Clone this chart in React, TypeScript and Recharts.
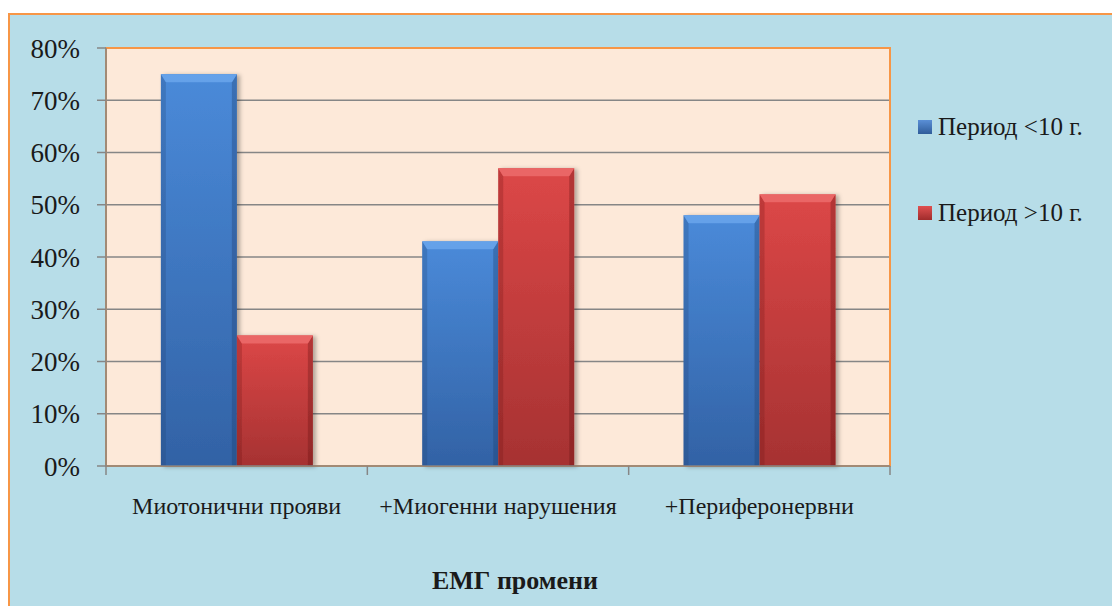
import React from 'react';
import { BarChart, Bar, XAxis, YAxis, CartesianGrid, Legend, ReferenceArea } from 'recharts';

const categories = ['Миотонични прояви', '+Миогенни нарушения', '+Периферонервни'];
const under10 = [75, 43, 48];
const over10 = [25, 57, 52];
const seriesNames = ['Период <10 г.', 'Период >10 г.'];
const yTicks = [0, 10, 20, 30, 40, 50, 60, 70, 80];
// integer positions are category boundaries, halves are category centres
const xTicks = [0, 0.5, 1, 1.5, 2, 2.5, 3];
const axisTitle = 'ЕМГ промени';

const data = categories.map((name, i) => ({
  name,
  pos: i + 0.5,
  under: under10[i],
  over: over10[i],
}));

const FONT = '"Liberation Serif", "Times New Roman", serif';
const TEXT = '#1a1a1a';
const AXIS = '#868686';

// bar with a light bevel on top and darker side edges
const makeBar = (grad: string, light: string, dark: string) => (props: any) => {
  const { x, y, width: w, height: h } = props;
  if (!h || h <= 0) return null;
  const b = Math.min(8, h / 2);
  const s = 5;
  return (
    <g filter="url(#barShadow)">
      <rect x={x} y={y} width={w} height={h} fill={`url(#${grad})`} />
      <polygon points={`${x},${y} ${x + s},${y + b} ${x + s},${y + h} ${x},${y + h}`} fill={dark} fillOpacity={0.25} />
      <polygon points={`${x + w},${y} ${x + w - s},${y + b} ${x + w - s},${y + h} ${x + w},${y + h}`} fill={dark} fillOpacity={0.35} />
      <polygon points={`${x},${y} ${x + w},${y} ${x + w - s},${y + b} ${x + s},${y + b}`} fill={light} fillOpacity={0.85} />
    </g>
  );
};

const BlueBar = makeBar('gradBlue', '#6aa6ec', '#1f3f70');
const RedBar = makeBar('gradRed', '#ec6c6c', '#6a1515');

const BottomTick = ({ x, y, payload }: any) => {
  const v = payload.value as number;
  if (Number.isInteger(v)) {
    return <line x1={x} y1={y} x2={x} y2={y + 9} stroke={AXIS} strokeWidth={1.5} />;
  }
  return (
    <text x={x} y={y + 48} textAnchor="middle" fill={TEXT} fontSize={24} fontFamily={FONT}>
      {categories[Math.floor(v)]}
    </text>
  );
};

const swatches = [
  ['#5a8fd6', '#2f5c9a'],
  ['#e05050', '#a02c2c'],
];

const renderLegend = () => (
  <div style={{ fontFamily: FONT, fontSize: 25, color: TEXT, whiteSpace: 'nowrap' }}>
    {seriesNames.map((n, i) => (
      <div
        key={n}
        style={{ display: 'flex', alignItems: 'center', height: 30, marginBottom: i === 0 ? 56 : 0 }}
      >
        <svg width={14} height={14} style={{ marginRight: 6, flexShrink: 0 }}>
          <defs>
            <linearGradient id={`sw${i}`} x1="0" y1="0" x2="0" y2="1">
              <stop offset="0%" stopColor={swatches[i][0]} />
              <stop offset="100%" stopColor={swatches[i][1]} />
            </linearGradient>
          </defs>
          <rect width={14} height={14} fill={`url(#sw${i})`} />
        </svg>
        <span>{n}</span>
      </div>
    ))}
  </div>
);

export default function App() {
  return (
    <div
      style={{
        position: 'absolute',
        left: 8,
        top: 13,
        width: 1104,
        height: 593,
        boxSizing: 'border-box',
        background: '#b7dde8',
        borderTop: '2px solid #f79646',
        borderLeft: '2px solid #f79646',
        overflow: 'hidden',
      }}
    >
      <BarChart
        width={1102}
        height={591}
        data={data}
        margin={{ top: 33, right: 222, bottom: 0, left: 0 }}
        barCategoryGap="21%"
        barGap={0}
      >
        <defs>
          <linearGradient id="gradBlue" x1="0" y1="0" x2="0" y2="1">
            <stop offset="0%" stopColor="#4a8ad9" />
            <stop offset="100%" stopColor="#3262a5" />
          </linearGradient>
          <linearGradient id="gradRed" x1="0" y1="0" x2="0" y2="1">
            <stop offset="0%" stopColor="#dc4747" />
            <stop offset="100%" stopColor="#a63232" />
          </linearGradient>
          <filter id="barShadow" x="-10%" y="-10%" width="130%" height="120%">
            <feDropShadow dx="3" dy="1" stdDeviation="2" floodColor="#000" floodOpacity="0.3" />
          </filter>
        </defs>
        <CartesianGrid xAxisId="cat" vertical={false} stroke={AXIS} strokeWidth={1.5} fill="#fde9d9" fillOpacity={1} />
        <ReferenceArea xAxisId="cat" y1={0} y2={80} fill="none" stroke="#f79646" strokeWidth={2} />
        <XAxis xAxisId="cat" dataKey="name" hide height={0} />
        <XAxis
          xAxisId="edge"
          type="number"
          dataKey="pos"
          domain={[0, 3]}
          ticks={xTicks}
          interval={0}
          allowDataOverflow
          height={140}
          tickLine={false}
          tickSize={0}
          tickMargin={0}
          stroke={AXIS}
          strokeWidth={1.5}
          tick={<BottomTick />}
          label={{
            value: axisTitle,
            position: 'insideBottom',
            offset: 17,
            dx: 17,
            fill: TEXT,
            fontSize: 26,
            fontWeight: 'bold',
            fontFamily: FONT,
          }}
        />
        <YAxis
          width={96}
          domain={[0, 80]}
          ticks={yTicks}
          interval={0}
          tickFormatter={(v: number) => `${v}%`}
          tickSize={9}
          tickMargin={17}
          stroke={AXIS}
          strokeWidth={1.5}
          tick={{ fill: TEXT, fontSize: 27, fontFamily: FONT }}
        />
        <Legend
          layout="horizontal"
          verticalAlign="middle"
          align="center"
          content={renderLegend}
          wrapperStyle={{ left: 908, top: 97, width: 194 }}
        />
        <Bar xAxisId="cat" dataKey="under" name={seriesNames[0]} shape={BlueBar} isAnimationActive={false} />
        <Bar xAxisId="cat" dataKey="over" name={seriesNames[1]} shape={RedBar} isAnimationActive={false} />
      </BarChart>
    </div>
  );
}
